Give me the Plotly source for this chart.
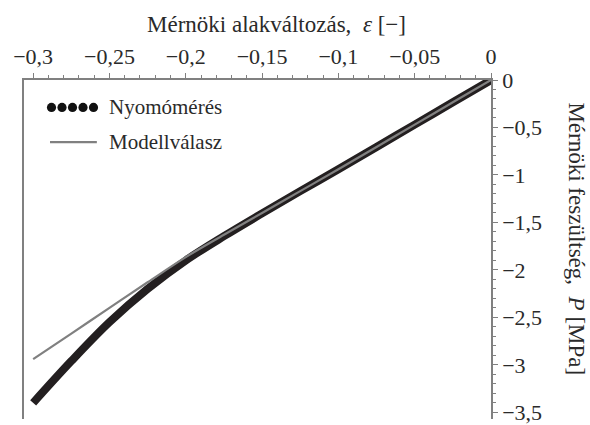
import plotly.graph_objects as go

# Measured data (Nyomómérés)
strain_meas = [0, -0.025, -0.05, -0.075, -0.1, -0.125, -0.15, -0.175, -0.2, -0.225, -0.25, -0.275, -0.3]
stress_meas = [0, -0.235, -0.47, -0.705, -0.94, -1.17, -1.405, -1.645, -1.90, -2.20, -2.55, -2.96, -3.40]

# Model response (Modellválasz)
strain_model = [0, -0.025, -0.05, -0.075, -0.1, -0.125, -0.15, -0.175, -0.2, -0.225, -0.25, -0.275, -0.3]
stress_model = [0, -0.235, -0.47, -0.705, -0.94, -1.17, -1.40, -1.63, -1.865, -2.13, -2.40, -2.67, -2.94]

x_tickvals = [-0.3, -0.25, -0.2, -0.15, -0.1, -0.05, 0]
x_ticktext = ["−0,3", "−0,25", "−0,2", "−0,15", "−0,1", "−0,05", "0"]
y_tickvals = [0, -0.5, -1, -1.5, -2, -2.5, -3, -3.5]
y_ticktext = ["0", "−0,5", "−1", "−1,5", "−2", "−2,5", "−3", "−3,5"]

FONT = "Liberation Serif"
TXT = "#2a2a2a"
AX = "#808080"
FS = 22

fig = go.Figure()
fig.add_trace(go.Scatter(x=strain_meas, y=stress_meas, mode="lines",
                         line=dict(color="#231f20", width=8, shape="spline"),
                         showlegend=False))
fig.add_trace(go.Scatter(x=strain_model, y=stress_model, mode="lines",
                         line=dict(color="#808080", width=2.2, shape="spline"),
                         showlegend=False))

fig.update_layout(
    width=590, height=425,
    margin=dict(l=24, r=99, t=80, b=0),
    paper_bgcolor="white", plot_bgcolor="white",
    font=dict(family=FONT, size=FS, color=TXT),
    showlegend=False,
)
fig.update_xaxes(
    side="top", range=[-0.306, 0], tickmode="array",
    tickvals=x_tickvals, ticktext=x_ticktext,
    showgrid=False, zeroline=False, showline=True, linecolor=AX, linewidth=1.5,
    ticks="outside", ticklen=5, tickcolor=AX, tickwidth=1,
    minor=dict(dtick=0.01, tick0=0, ticks="outside", ticklen=3, tickcolor=AX, showgrid=False),
    tickfont=dict(family=FONT, size=FS, color=TXT),
)
fig.update_yaxes(
    side="right", range=[-3.57, 0], tickmode="array",
    tickvals=y_tickvals, ticktext=y_ticktext,
    showgrid=False, zeroline=False, showline=True, linecolor=AX, linewidth=1.5,
    mirror=True, ticklabeloverflow="allow",
    ticks="outside", ticklen=5, tickcolor=AX, tickwidth=1,
    minor=dict(dtick=0.1, tick0=0, ticks="outside", ticklen=3, tickcolor=AX, showgrid=False),
    tickfont=dict(family=FONT, size=FS, color=TXT),
)

# Axis titles
fig.add_annotation(xref="paper", yref="paper", x=0.54, y=1.0, yshift=56,
                   xanchor="center", yanchor="middle",
                   text="Mérnöki alakváltozás,  <i>ε</i> [−]", showarrow=False,
                   font=dict(family=FONT, size=23, color=TXT))
fig.add_annotation(xref="paper", yref="paper", x=1.184, y=0.53,
                   xanchor="center", yanchor="middle",
                   text="Mérnöki feszültség,  <i>P</i> [MPa]", showarrow=False,
                   textangle=90, font=dict(family=FONT, size=23, color=TXT))

# Legend (drawn manually)
for i in range(5):
    fig.add_shape(type="circle", xref="paper", yref="paper",
                  xsizemode="pixel", ysizemode="pixel",
                  xanchor=(51.5 + 10.5 * i - 24) / 467, yanchor=0.919,
                  x0=-4.6, x1=4.6, y0=-4.6, y1=4.6,
                  fillcolor="#111111", line=dict(width=0))
fig.add_annotation(xref="paper", yref="paper", x=0.178, y=0.919, xanchor="left",
                   yanchor="middle", text="Nyomómérés", showarrow=False,
                   font=dict(family=FONT, size=21, color=TXT))
fig.add_shape(type="line", xref="paper", yref="paper", x0=0.0557, x1=0.156,
              y0=0.817, y1=0.817, line=dict(color="#808080", width=2.2))
fig.add_annotation(xref="paper", yref="paper", x=0.178, y=0.817, xanchor="left",
                   yanchor="middle", text="Modellválasz", showarrow=False,
                   font=dict(family=FONT, size=21, color=TXT))

fig.write_html("out.html")
